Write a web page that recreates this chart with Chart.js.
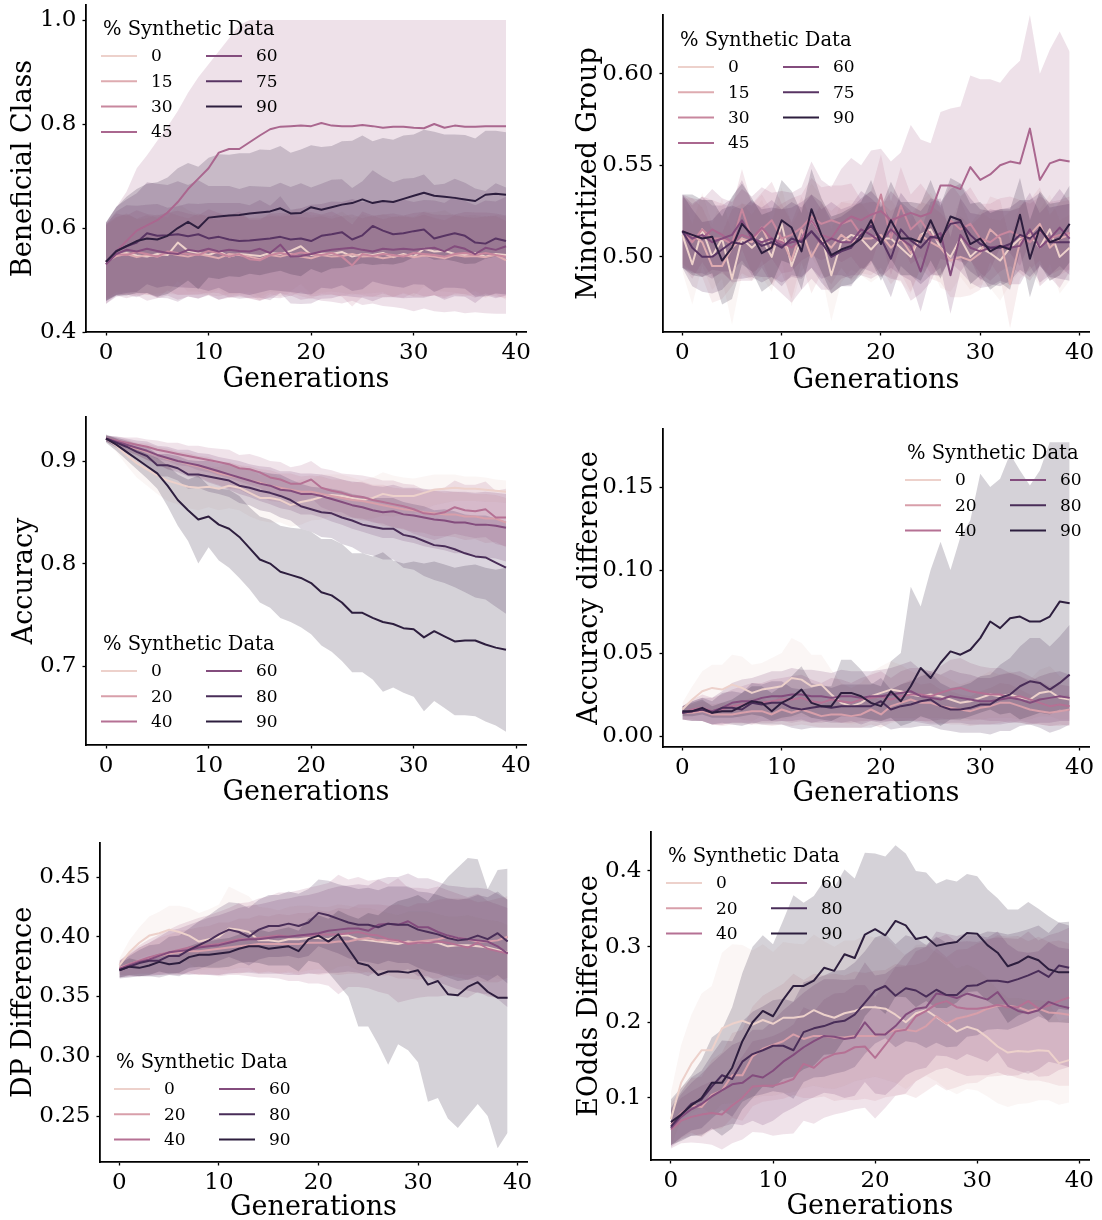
<!DOCTYPE html>
<html>
<head>
<meta charset="utf-8">
<script src="https://cdn.jsdelivr.net/npm/chart.js@4/dist/chart.umd.min.js"></script>
<style>
  body { margin: 0; background: #fff; width: 1102px; height: 1220px; position: relative; overflow: hidden; }
  canvas { position: absolute; }
</style>
</head>
<body>
<script>
// generations on the x axis and the two hue sets
const generations = [0,1,2,3,4,5,6,7,8,9,10,11,12,13,14,15,16,17,18,19,20,21,22,23,24,25,26,27,28,29,30,31,32,33,34,35,36,37,38,39];
const xTicks = [0, 10, 20, 30, 40];
const pctSeven = [0, 15, 30, 45, 60, 75, 90];
const pctSix = [0, 20, 40, 60, 80, 90];

// --- Beneficial Class ---
const bcYTicks = ["0.4", "0.6", "0.8", "1.0"];
const bcMean0 = [0.535,0.548,0.552,0.547,0.545,0.55,0.548,0.572,0.556,0.552,0.548,0.555,0.545,0.55,0.548,0.546,0.552,0.55,0.556,0.565,0.548,0.551,0.55,0.554,0.545,0.55,0.548,0.552,0.544,0.55,0.545,0.56,0.555,0.556,0.55,0.548,0.552,0.545,0.55,0.548];
const bcMean15 = [0.535,0.546,0.55,0.544,0.548,0.545,0.552,0.548,0.545,0.55,0.546,0.542,0.55,0.548,0.545,0.54,0.548,0.545,0.55,0.545,0.542,0.548,0.545,0.546,0.55,0.545,0.546,0.542,0.545,0.548,0.544,0.547,0.545,0.542,0.548,0.545,0.546,0.544,0.548,0.538];
const bcMean30 = [0.535,0.55,0.548,0.554,0.55,0.545,0.555,0.552,0.55,0.548,0.556,0.552,0.545,0.55,0.54,0.538,0.548,0.552,0.548,0.553,0.55,0.548,0.552,0.545,0.528,0.55,0.546,0.55,0.548,0.545,0.552,0.55,0.548,0.545,0.55,0.552,0.548,0.552,0.548,0.545];
const bcMean45 = [0.53,0.555,0.575,0.595,0.605,0.615,0.63,0.65,0.675,0.695,0.715,0.745,0.752,0.752,0.765,0.778,0.79,0.795,0.796,0.797,0.796,0.802,0.797,0.796,0.796,0.798,0.796,0.793,0.795,0.795,0.793,0.792,0.8,0.793,0.797,0.795,0.795,0.796,0.796,0.796];
const bcMean60 = [0.53,0.55,0.558,0.555,0.56,0.556,0.552,0.55,0.558,0.555,0.56,0.555,0.558,0.556,0.555,0.56,0.552,0.568,0.545,0.546,0.55,0.555,0.558,0.56,0.562,0.558,0.555,0.56,0.558,0.56,0.558,0.56,0.562,0.555,0.565,0.56,0.55,0.562,0.558,0.565];
const bcMean75 = [0.535,0.556,0.565,0.572,0.59,0.585,0.586,0.588,0.584,0.588,0.58,0.583,0.578,0.575,0.576,0.578,0.58,0.583,0.578,0.58,0.575,0.585,0.588,0.592,0.578,0.586,0.604,0.595,0.588,0.59,0.594,0.597,0.58,0.585,0.59,0.585,0.572,0.57,0.58,0.575];
const bcMean90 = [0.535,0.555,0.565,0.575,0.58,0.578,0.585,0.6,0.612,0.6,0.62,0.622,0.624,0.625,0.628,0.63,0.632,0.638,0.628,0.629,0.64,0.635,0.64,0.645,0.648,0.655,0.648,0.652,0.65,0.656,0.662,0.668,0.662,0.66,0.658,0.655,0.652,0.664,0.666,0.664];
const bcBand0 = [0.07,0.072,0.075,0.07,0.074,0.076,0.072,0.075,0.078,0.074,0.076,0.073,0.077,0.075,0.072,0.078,0.075,0.074,0.077,0.073,0.076,0.075,0.072,0.078,0.074,0.076,0.073,0.075,0.077,0.074,0.076,0.072,0.075,0.078,0.074,0.076,0.073,0.077,0.075,0.074];
const bcBand15 = [0.072,0.075,0.078,0.074,0.077,0.075,0.079,0.076,0.074,0.078,0.075,0.073,0.077,0.076,0.074,0.079,0.075,0.077,0.074,0.076,0.078,0.075,0.073,0.077,0.076,0.074,0.078,0.075,0.077,0.074,0.076,0.079,0.075,0.073,0.077,0.076,0.074,0.078,0.075,0.076];
const bcBand30 = [0.074,0.078,0.076,0.08,0.077,0.079,0.075,0.081,0.078,0.076,0.08,0.077,0.079,0.082,0.076,0.078,0.08,0.077,0.079,0.076,0.081,0.078,0.08,0.077,0.079,0.082,0.078,0.076,0.08,0.079,0.077,0.081,0.078,0.08,0.076,0.079,0.082,0.078,0.08,0.079];
const bcLow45 = [0.455,0.47,0.465,0.47,0.46,0.465,0.47,0.462,0.468,0.465,0.47,0.462,0.466,0.47,0.465,0.46,0.466,0.465,0.47,0.462,0.465,0.46,0.458,0.455,0.46,0.452,0.455,0.45,0.448,0.445,0.44,0.445,0.44,0.438,0.44,0.436,0.438,0.436,0.435,0.435];
const bcHigh45 = [0.61,0.64,0.67,0.715,0.74,0.768,0.795,0.825,0.86,0.89,0.915,0.94,0.965,0.99,1,1,1,1,1,1,1,1,1,1,1,1,1,1,1,1,1,1,1,1,1,1,1,1,1,1];
const bcBand60 = [0.076,0.082,0.086,0.088,0.085,0.09,0.087,0.092,0.089,0.091,0.088,0.093,0.09,0.092,0.089,0.094,0.091,0.093,0.09,0.092,0.095,0.091,0.093,0.09,0.094,0.092,0.096,0.093,0.091,0.095,0.092,0.094,0.091,0.093,0.096,0.092,0.094,0.091,0.093,0.095];
const bcBand75 = [0.076,0.085,0.09,0.095,0.098,0.1,0.097,0.102,0.099,0.104,0.101,0.098,0.103,0.1,0.105,0.102,0.099,0.104,0.101,0.106,0.103,0.1,0.105,0.102,0.099,0.104,0.107,0.103,0.1,0.105,0.102,0.106,0.103,0.1,0.105,0.102,0.104,0.101,0.106,0.103];
const bcBand90 = [0.075,0.085,0.095,0.1,0.105,0.11,0.112,0.115,0.113,0.118,0.115,0.12,0.117,0.119,0.116,0.121,0.118,0.12,0.117,0.122,0.119,0.121,0.118,0.122,0.12,0.123,0.119,0.121,0.12,0.122,0.118,0.121,0.123,0.12,0.122,0.124,0.12,0.123,0.121,0.12];

// --- Minoritized Group ---
const mgYTicks = ["0.50", "0.55", "0.60"];
const mgMean0 = [0.512,0.496,0.515,0.5,0.51,0.488,0.51,0.505,0.51,0.5,0.518,0.495,0.51,0.52,0.512,0.49,0.508,0.512,0.51,0.504,0.51,0.51,0.505,0.5,0.512,0.515,0.505,0.5,0.51,0.5,0.505,0.502,0.498,0.505,0.51,0.512,0.505,0.515,0.5,0.505];
const mgMean15 = [0.514,0.512,0.508,0.495,0.495,0.505,0.51,0.508,0.516,0.505,0.51,0.498,0.515,0.5,0.51,0.505,0.512,0.508,0.51,0.51,0.512,0.505,0.51,0.502,0.512,0.508,0.505,0.498,0.5,0.498,0.502,0.515,0.51,0.485,0.508,0.512,0.518,0.505,0.51,0.512];
const mgMean30 = [0.514,0.508,0.515,0.51,0.51,0.507,0.526,0.51,0.515,0.52,0.51,0.512,0.516,0.522,0.518,0.52,0.518,0.52,0.512,0.516,0.534,0.51,0.528,0.515,0.52,0.512,0.508,0.52,0.515,0.518,0.51,0.508,0.512,0.514,0.511,0.508,0.514,0.51,0.512,0.513];
const mgMean45 = [0.514,0.512,0.51,0.515,0.512,0.508,0.512,0.51,0.516,0.51,0.508,0.505,0.51,0.52,0.512,0.51,0.518,0.522,0.52,0.523,0.525,0.52,0.522,0.524,0.522,0.524,0.539,0.539,0.537,0.549,0.542,0.545,0.55,0.552,0.551,0.57,0.542,0.551,0.553,0.552];
const mgMean60 = [0.514,0.51,0.512,0.508,0.51,0.512,0.52,0.51,0.508,0.51,0.506,0.508,0.509,0.514,0.507,0.51,0.508,0.508,0.515,0.512,0.508,0.515,0.51,0.506,0.492,0.51,0.513,0.49,0.512,0.505,0.503,0.505,0.506,0.505,0.506,0.515,0.505,0.51,0.516,0.51];
const mgMean75 = [0.514,0.505,0.5,0.5,0.504,0.508,0.507,0.51,0.506,0.508,0.505,0.51,0.508,0.514,0.508,0.5,0.503,0.505,0.512,0.517,0.51,0.499,0.515,0.509,0.505,0.511,0.51,0.518,0.519,0.512,0.507,0.505,0.505,0.507,0.512,0.51,0.515,0.508,0.508,0.508];
const mgMean90 = [0.514,0.512,0.51,0.511,0.498,0.505,0.518,0.512,0.502,0.505,0.52,0.516,0.503,0.526,0.512,0.501,0.504,0.506,0.51,0.52,0.507,0.52,0.51,0.51,0.508,0.52,0.508,0.522,0.52,0.507,0.51,0.503,0.506,0.504,0.523,0.499,0.516,0.508,0.51,0.518];
const mgBand0 = [0.02,0.022,0.02,0.018,0.022,0.025,0.02,0.018,0.021,0.019,0.02,0.022,0.018,0.02,0.021,0.025,0.022,0.019,0.02,0.018,0.02,0.021,0.019,0.02,0.018,0.02,0.022,0.019,0.021,0.018,0.02,0.019,0.022,0.02,0.018,0.02,0.021,0.019,0.02,0.018];
const mgBand15 = [0.018,0.02,0.019,0.02,0.018,0.021,0.019,0.02,0.018,0.02,0.019,0.021,0.018,0.02,0.019,0.02,0.018,0.021,0.019,0.02,0.018,0.02,0.019,0.021,0.018,0.02,0.019,0.02,0.022,0.019,0.02,0.018,0.021,0.024,0.02,0.019,0.02,0.018,0.02,0.019];
const mgBand30 = [0.019,0.02,0.018,0.021,0.019,0.02,0.022,0.019,0.02,0.021,0.019,0.02,0.018,0.021,0.02,0.019,0.021,0.02,0.019,0.02,0.022,0.02,0.021,0.019,0.02,0.021,0.019,0.02,0.018,0.02,0.019,0.021,0.02,0.019,0.02,0.021,0.019,0.02,0.019,0.02];
const mgBand45 = [0.02,0.02,0.021,0.022,0.02,0.022,0.025,0.023,0.022,0.025,0.028,0.03,0.028,0.032,0.03,0.028,0.03,0.032,0.03,0.035,0.034,0.032,0.035,0.048,0.042,0.038,0.04,0.042,0.045,0.05,0.055,0.052,0.045,0.05,0.056,0.062,0.058,0.062,0.07,0.06];
const mgBand60 = [0.02,0.019,0.021,0.02,0.018,0.02,0.022,0.02,0.019,0.021,0.02,0.019,0.021,0.02,0.019,0.02,0.018,0.02,0.021,0.02,0.019,0.021,0.02,0.019,0.022,0.02,0.019,0.021,0.02,0.019,0.02,0.021,0.019,0.02,0.021,0.02,0.019,0.02,0.021,0.02];
const mgBand75 = [0.02,0.021,0.019,0.02,0.022,0.02,0.019,0.021,0.02,0.019,0.021,0.02,0.019,0.02,0.022,0.02,0.019,0.021,0.02,0.019,0.02,0.021,0.02,0.019,0.02,0.021,0.02,0.019,0.021,0.02,0.019,0.02,0.021,0.02,0.019,0.021,0.02,0.019,0.02,0.021];
const mgBand90 = [0.02,0.022,0.021,0.02,0.024,0.028,0.022,0.02,0.021,0.02,0.022,0.02,0.021,0.022,0.02,0.021,0.02,0.021,0.02,0.022,0.02,0.021,0.02,0.02,0.021,0.022,0.02,0.021,0.02,0.022,0.02,0.021,0.02,0.022,0.02,0.021,0.02,0.021,0.02,0.021];

// --- Accuracy ---
const accYTicks = ["0.7", "0.8", "0.9"];
const accMean0 = [0.922,0.915,0.906,0.898,0.892,0.886,0.881,0.878,0.875,0.874,0.875,0.873,0.876,0.874,0.869,0.864,0.864,0.862,0.857,0.86,0.862,0.865,0.867,0.866,0.864,0.862,0.864,0.868,0.866,0.866,0.866,0.869,0.872,0.873,0.874,0.873,0.873,0.872,0.871,0.87];
const accMean20 = [0.922,0.918,0.915,0.912,0.909,0.906,0.902,0.9,0.897,0.895,0.892,0.888,0.886,0.884,0.881,0.879,0.876,0.874,0.872,0.87,0.87,0.868,0.866,0.864,0.862,0.861,0.859,0.857,0.855,0.853,0.852,0.85,0.849,0.848,0.848,0.846,0.846,0.844,0.844,0.84];
const accMean40 = [0.922,0.92,0.918,0.916,0.914,0.911,0.909,0.907,0.905,0.903,0.901,0.899,0.897,0.893,0.892,0.889,0.884,0.882,0.878,0.878,0.882,0.874,0.871,0.869,0.866,0.865,0.862,0.86,0.858,0.856,0.853,0.849,0.848,0.85,0.855,0.852,0.851,0.853,0.845,0.845];
const accMean60 = [0.922,0.919,0.916,0.913,0.91,0.906,0.903,0.9,0.898,0.896,0.893,0.89,0.887,0.884,0.881,0.878,0.876,0.872,0.871,0.868,0.868,0.866,0.863,0.86,0.857,0.855,0.852,0.85,0.851,0.848,0.847,0.845,0.843,0.842,0.84,0.84,0.838,0.838,0.837,0.835];
const accMean80 = [0.922,0.918,0.914,0.909,0.905,0.896,0.896,0.893,0.887,0.887,0.885,0.883,0.881,0.876,0.874,0.871,0.869,0.866,0.862,0.856,0.853,0.85,0.849,0.845,0.842,0.838,0.836,0.834,0.834,0.828,0.826,0.822,0.818,0.817,0.814,0.81,0.807,0.806,0.801,0.796];
const accMean90 = [0.922,0.916,0.909,0.902,0.895,0.888,0.876,0.862,0.852,0.843,0.846,0.838,0.834,0.826,0.815,0.804,0.8,0.792,0.789,0.786,0.781,0.772,0.769,0.762,0.752,0.752,0.747,0.743,0.741,0.737,0.736,0.728,0.734,0.729,0.724,0.725,0.725,0.721,0.718,0.716];
const accBand0 = [0.003,0.006,0.01,0.014,0.016,0.018,0.02,0.02,0.021,0.022,0.02,0.021,0.022,0.022,0.023,0.022,0.024,0.022,0.021,0.022,0.02,0.022,0.02,0.021,0.02,0.019,0.02,0.021,0.02,0.018,0.017,0.016,0.015,0.014,0.013,0.012,0.012,0.012,0.011,0.011];
const accBand20 = [0.003,0.004,0.006,0.006,0.008,0.008,0.01,0.009,0.011,0.01,0.012,0.011,0.013,0.012,0.014,0.013,0.015,0.014,0.016,0.015,0.016,0.017,0.016,0.018,0.017,0.019,0.018,0.02,0.019,0.02,0.021,0.02,0.022,0.021,0.022,0.023,0.022,0.024,0.023,0.024];
const accBand40 = [0.003,0.004,0.005,0.007,0.007,0.009,0.009,0.011,0.01,0.012,0.012,0.013,0.014,0.013,0.015,0.015,0.016,0.017,0.016,0.018,0.018,0.019,0.02,0.019,0.021,0.021,0.022,0.021,0.023,0.022,0.024,0.023,0.025,0.024,0.026,0.025,0.026,0.027,0.026,0.028];
const accBand60 = [0.003,0.005,0.006,0.007,0.009,0.009,0.011,0.011,0.013,0.012,0.014,0.014,0.015,0.016,0.016,0.017,0.018,0.018,0.019,0.02,0.02,0.021,0.022,0.022,0.023,0.024,0.024,0.025,0.026,0.026,0.027,0.028,0.028,0.029,0.03,0.03,0.031,0.032,0.032,0.033];
const accBand80 = [0.003,0.005,0.006,0.008,0.009,0.011,0.011,0.012,0.014,0.013,0.015,0.015,0.016,0.017,0.017,0.019,0.019,0.021,0.02,0.022,0.022,0.024,0.024,0.026,0.026,0.028,0.028,0.03,0.03,0.032,0.032,0.034,0.034,0.036,0.037,0.038,0.04,0.041,0.043,0.045];
const accBand90 = [0.004,0.006,0.008,0.01,0.012,0.015,0.02,0.025,0.03,0.043,0.03,0.035,0.038,0.04,0.04,0.042,0.043,0.045,0.046,0.048,0.05,0.052,0.055,0.057,0.058,0.058,0.06,0.068,0.062,0.063,0.066,0.072,0.068,0.07,0.072,0.073,0.074,0.075,0.076,0.08];

// --- Accuracy difference ---
const adYTicks = ["0.00", "0.05", "0.10", "0.15"];
const adMean0 = [0.016,0.022,0.027,0.029,0.028,0.031,0.029,0.026,0.028,0.029,0.03,0.035,0.034,0.03,0.031,0.025,0.02,0.018,0.02,0.024,0.026,0.028,0.027,0.025,0.024,0.025,0.024,0.022,0.02,0.021,0.023,0.025,0.024,0.025,0.023,0.022,0.026,0.027,0.023,0.022];
const adMean20 = [0.014,0.014,0.015,0.013,0.013,0.013,0.014,0.015,0.015,0.013,0.016,0.014,0.016,0.014,0.012,0.013,0.013,0.012,0.013,0.016,0.013,0.018,0.02,0.022,0.02,0.02,0.018,0.017,0.016,0.015,0.017,0.018,0.02,0.02,0.018,0.016,0.015,0.014,0.015,0.016];
const adMean40 = [0.014,0.016,0.017,0.015,0.016,0.018,0.019,0.02,0.02,0.021,0.022,0.022,0.023,0.021,0.02,0.022,0.021,0.02,0.022,0.023,0.024,0.022,0.024,0.025,0.025,0.024,0.026,0.028,0.029,0.027,0.026,0.025,0.025,0.023,0.024,0.022,0.02,0.018,0.019,0.018];
const adMean60 = [0.014,0.015,0.016,0.015,0.017,0.02,0.021,0.021,0.023,0.024,0.024,0.025,0.025,0.024,0.024,0.023,0.024,0.024,0.023,0.024,0.024,0.025,0.026,0.027,0.024,0.023,0.022,0.024,0.023,0.022,0.021,0.021,0.022,0.023,0.022,0.02,0.022,0.023,0.024,0.023];
const adMean80 = [0.014,0.015,0.016,0.014,0.017,0.017,0.016,0.02,0.019,0.02,0.02,0.017,0.016,0.017,0.018,0.017,0.018,0.018,0.018,0.018,0.021,0.016,0.018,0.019,0.021,0.022,0.018,0.016,0.016,0.017,0.019,0.019,0.023,0.025,0.03,0.033,0.032,0.028,0.032,0.037];
const adMean90 = [0.015,0.015,0.017,0.014,0.015,0.015,0.018,0.021,0.02,0.015,0.02,0.023,0.028,0.02,0.018,0.018,0.026,0.026,0.024,0.02,0.018,0.027,0.021,0.03,0.041,0.035,0.044,0.051,0.049,0.052,0.059,0.069,0.065,0.071,0.072,0.069,0.069,0.072,0.081,0.08];
const adBand0 = [0.004,0.008,0.012,0.014,0.015,0.018,0.019,0.017,0.016,0.018,0.02,0.024,0.022,0.019,0.018,0.015,0.012,0.011,0.012,0.014,0.016,0.017,0.016,0.014,0.013,0.014,0.013,0.012,0.011,0.012,0.013,0.014,0.013,0.014,0.013,0.012,0.014,0.015,0.013,0.012];
const adBand20 = [0.004,0.005,0.006,0.006,0.007,0.006,0.007,0.008,0.008,0.007,0.009,0.008,0.009,0.008,0.007,0.008,0.008,0.007,0.008,0.009,0.008,0.01,0.011,0.012,0.011,0.012,0.01,0.01,0.009,0.009,0.01,0.011,0.012,0.011,0.01,0.009,0.008,0.008,0.009,0.009];
const adBand40 = [0.004,0.006,0.008,0.008,0.009,0.01,0.011,0.012,0.012,0.013,0.013,0.014,0.014,0.013,0.012,0.013,0.013,0.012,0.013,0.014,0.015,0.013,0.015,0.016,0.016,0.015,0.016,0.018,0.018,0.017,0.016,0.016,0.016,0.015,0.015,0.014,0.013,0.012,0.012,0.012];
const adBand60 = [0.004,0.006,0.007,0.008,0.01,0.012,0.013,0.014,0.014,0.015,0.015,0.016,0.015,0.016,0.015,0.015,0.016,0.015,0.016,0.015,0.016,0.016,0.017,0.018,0.016,0.016,0.015,0.016,0.015,0.015,0.014,0.014,0.015,0.015,0.014,0.013,0.014,0.015,0.015,0.014];
const adBand80 = [0.004,0.006,0.007,0.007,0.009,0.01,0.01,0.012,0.012,0.013,0.013,0.012,0.012,0.012,0.013,0.012,0.013,0.013,0.013,0.013,0.014,0.012,0.013,0.014,0.015,0.016,0.014,0.013,0.014,0.015,0.017,0.018,0.02,0.022,0.024,0.026,0.027,0.026,0.028,0.03];
const adLow90 = [0.012,0.012,0.013,0.011,0.011,0.011,0.012,0.013,0.012,0.009,0.011,0.012,0.014,0.011,0.01,0.009,0.012,0.012,0.011,0.01,0.009,0.011,0.006,0.008,0.012,0.01,0.006,0.01,0.01,0.012,0.014,0.016,0.013,0.014,0.01,0.012,0.014,0.013,0.016,0.015];
const adHigh90 = [0.018,0.02,0.022,0.018,0.02,0.022,0.026,0.03,0.03,0.026,0.03,0.036,0.042,0.032,0.03,0.03,0.046,0.046,0.04,0.032,0.03,0.045,0.05,0.09,0.078,0.1,0.117,0.1,0.12,0.13,0.158,0.15,0.155,0.17,0.16,0.151,0.16,0.177,0.177,0.177];

// --- DP Difference ---
const dpYTicks = ["0.25", "0.30", "0.35", "0.40", "0.45"];
const dpMean0 = [0.376,0.387,0.395,0.401,0.403,0.406,0.404,0.401,0.396,0.398,0.4,0.407,0.406,0.404,0.397,0.397,0.396,0.398,0.398,0.399,0.399,0.398,0.401,0.401,0.398,0.397,0.396,0.395,0.394,0.396,0.395,0.396,0.395,0.392,0.393,0.393,0.392,0.391,0.389,0.387];
const dpMean20 = [0.374,0.377,0.38,0.382,0.384,0.386,0.387,0.388,0.388,0.389,0.39,0.391,0.392,0.393,0.394,0.394,0.394,0.394,0.394,0.395,0.395,0.395,0.396,0.396,0.398,0.399,0.397,0.397,0.396,0.395,0.396,0.397,0.398,0.4,0.399,0.398,0.396,0.396,0.397,0.4];
const dpMean40 = [0.373,0.377,0.38,0.383,0.385,0.387,0.389,0.391,0.392,0.393,0.394,0.396,0.398,0.398,0.399,0.4,0.401,0.4,0.401,0.401,0.402,0.402,0.402,0.403,0.404,0.402,0.401,0.398,0.397,0.394,0.395,0.395,0.396,0.395,0.393,0.391,0.395,0.39,0.388,0.386];
const dpMean60 = [0.373,0.376,0.379,0.381,0.384,0.387,0.388,0.389,0.391,0.392,0.393,0.395,0.397,0.398,0.398,0.399,0.4,0.4,0.401,0.402,0.403,0.405,0.406,0.407,0.407,0.405,0.41,0.411,0.41,0.413,0.408,0.408,0.404,0.401,0.399,0.398,0.397,0.396,0.392,0.386];
const dpMean80 = [0.372,0.375,0.378,0.38,0.38,0.384,0.384,0.389,0.393,0.397,0.402,0.406,0.404,0.4,0.406,0.409,0.409,0.411,0.409,0.412,0.42,0.418,0.415,0.412,0.41,0.41,0.408,0.411,0.41,0.41,0.406,0.404,0.402,0.399,0.397,0.398,0.401,0.398,0.403,0.396];
const dpMean90 = [0.372,0.375,0.374,0.376,0.379,0.377,0.378,0.383,0.385,0.385,0.386,0.387,0.39,0.392,0.392,0.39,0.391,0.392,0.388,0.398,0.401,0.396,0.402,0.39,0.378,0.376,0.368,0.371,0.371,0.37,0.372,0.36,0.363,0.352,0.351,0.358,0.362,0.354,0.349,0.349];
const dpBand0 = [0.006,0.01,0.013,0.016,0.018,0.02,0.022,0.023,0.024,0.025,0.027,0.035,0.032,0.03,0.028,0.027,0.026,0.027,0.028,0.027,0.026,0.027,0.026,0.025,0.026,0.027,0.026,0.025,0.024,0.025,0.026,0.025,0.024,0.025,0.024,0.025,0.024,0.023,0.024,0.023];
const dpBand20 = [0.006,0.009,0.011,0.013,0.015,0.016,0.018,0.018,0.02,0.02,0.022,0.021,0.023,0.022,0.024,0.023,0.025,0.024,0.026,0.025,0.027,0.026,0.028,0.027,0.029,0.028,0.03,0.029,0.031,0.03,0.032,0.031,0.033,0.032,0.033,0.034,0.033,0.034,0.035,0.034];
const dpBand40 = [0.007,0.01,0.013,0.015,0.017,0.019,0.021,0.022,0.024,0.025,0.027,0.028,0.03,0.031,0.033,0.034,0.036,0.037,0.038,0.04,0.041,0.043,0.05,0.045,0.046,0.045,0.047,0.046,0.052,0.047,0.046,0.045,0.046,0.044,0.043,0.042,0.041,0.04,0.039,0.038];
const dpBand60 = [0.007,0.009,0.012,0.014,0.016,0.018,0.019,0.021,0.022,0.024,0.025,0.026,0.027,0.028,0.029,0.03,0.031,0.032,0.033,0.033,0.034,0.035,0.036,0.036,0.037,0.038,0.038,0.039,0.04,0.04,0.041,0.041,0.042,0.042,0.043,0.043,0.044,0.044,0.044,0.045];
const dpBand80 = [0.007,0.009,0.011,0.013,0.014,0.016,0.017,0.018,0.02,0.021,0.022,0.023,0.024,0.024,0.025,0.026,0.026,0.027,0.027,0.028,0.028,0.029,0.029,0.03,0.03,0.031,0.031,0.031,0.032,0.032,0.032,0.033,0.033,0.033,0.034,0.034,0.034,0.035,0.035,0.035];
const dpLow90 = [0.366,0.368,0.367,0.368,0.371,0.369,0.37,0.374,0.375,0.374,0.374,0.375,0.378,0.379,0.378,0.376,0.376,0.376,0.371,0.38,0.378,0.37,0.36,0.35,0.325,0.325,0.31,0.293,0.31,0.305,0.295,0.262,0.265,0.248,0.24,0.25,0.26,0.25,0.223,0.236];
const dpHigh90 = [0.378,0.382,0.38,0.383,0.386,0.385,0.386,0.392,0.395,0.396,0.398,0.399,0.402,0.405,0.406,0.404,0.406,0.408,0.405,0.415,0.418,0.415,0.422,0.418,0.415,0.42,0.418,0.425,0.43,0.432,0.435,0.43,0.44,0.45,0.458,0.466,0.465,0.44,0.456,0.457];

// --- EOdds Difference ---
const eoYTicks = ["0.1", "0.2", "0.3", "0.4"];
const eoMean0 = [0.072,0.12,0.145,0.163,0.163,0.192,0.198,0.202,0.197,0.203,0.198,0.206,0.206,0.208,0.216,0.21,0.206,0.212,0.215,0.22,0.22,0.218,0.21,0.2,0.212,0.216,0.207,0.198,0.188,0.194,0.19,0.18,0.168,0.16,0.162,0.161,0.163,0.162,0.146,0.15];
const eoMean20 = [0.065,0.08,0.09,0.088,0.104,0.11,0.13,0.13,0.155,0.165,0.17,0.175,0.184,0.178,0.182,0.182,0.18,0.18,0.182,0.182,0.182,0.185,0.19,0.19,0.188,0.195,0.208,0.198,0.205,0.208,0.212,0.218,0.222,0.222,0.22,0.215,0.218,0.213,0.212,0.21];
const eoMean40 = [0.058,0.07,0.075,0.078,0.08,0.078,0.09,0.1,0.115,0.116,0.116,0.12,0.125,0.145,0.14,0.152,0.158,0.16,0.167,0.168,0.153,0.17,0.188,0.19,0.208,0.215,0.224,0.228,0.22,0.218,0.218,0.22,0.223,0.22,0.22,0.228,0.218,0.222,0.228,0.233];
const eoMean60 = [0.06,0.075,0.085,0.092,0.102,0.11,0.118,0.12,0.13,0.127,0.136,0.148,0.157,0.167,0.175,0.182,0.181,0.178,0.18,0.2,0.184,0.184,0.195,0.21,0.218,0.22,0.238,0.236,0.232,0.238,0.234,0.23,0.24,0.222,0.215,0.212,0.216,0.227,0.222,0.219];
const eoMean80 = [0.062,0.078,0.092,0.098,0.115,0.13,0.125,0.148,0.158,0.163,0.169,0.169,0.163,0.187,0.192,0.195,0.2,0.202,0.21,0.226,0.242,0.248,0.235,0.245,0.242,0.234,0.243,0.236,0.236,0.248,0.249,0.255,0.255,0.253,0.257,0.262,0.268,0.26,0.275,0.272];
const eoMean90 = [0.068,0.078,0.09,0.1,0.12,0.12,0.14,0.175,0.2,0.215,0.208,0.23,0.248,0.248,0.255,0.272,0.268,0.29,0.285,0.316,0.323,0.315,0.334,0.328,0.31,0.313,0.301,0.304,0.306,0.318,0.317,0.302,0.292,0.274,0.279,0.287,0.282,0.27,0.266,0.266];
const eoBand0 = [0.035,0.05,0.065,0.075,0.085,0.1,0.105,0.1,0.098,0.1,0.095,0.1,0.098,0.095,0.1,0.097,0.094,0.096,0.093,0.095,0.092,0.094,0.09,0.088,0.09,0.087,0.085,0.086,0.083,0.082,0.08,0.078,0.075,0.072,0.07,0.068,0.066,0.065,0.055,0.056];
const eoBand20 = [0.028,0.033,0.036,0.04,0.046,0.05,0.056,0.06,0.066,0.07,0.073,0.076,0.08,0.078,0.082,0.08,0.084,0.082,0.085,0.083,0.086,0.084,0.087,0.085,0.088,0.086,0.09,0.088,0.091,0.089,0.092,0.09,0.093,0.091,0.094,0.092,0.095,0.093,0.096,0.094];
const eoBand40 = [0.025,0.03,0.034,0.038,0.042,0.046,0.05,0.055,0.06,0.062,0.066,0.068,0.072,0.075,0.074,0.078,0.08,0.079,0.082,0.081,0.08,0.083,0.085,0.084,0.086,0.085,0.087,0.088,0.086,0.089,0.088,0.09,0.089,0.091,0.09,0.092,0.09,0.093,0.091,0.092];
const eoBand60 = [0.025,0.03,0.035,0.04,0.044,0.048,0.052,0.056,0.06,0.063,0.066,0.068,0.07,0.072,0.074,0.075,0.076,0.078,0.077,0.079,0.078,0.08,0.079,0.08,0.081,0.08,0.082,0.081,0.082,0.08,0.081,0.082,0.08,0.081,0.079,0.08,0.078,0.079,0.077,0.078];
const eoBand80 = [0.025,0.03,0.035,0.038,0.042,0.046,0.05,0.053,0.056,0.058,0.06,0.062,0.064,0.066,0.065,0.067,0.068,0.067,0.069,0.068,0.07,0.069,0.068,0.07,0.069,0.068,0.07,0.069,0.068,0.067,0.066,0.065,0.064,0.063,0.062,0.061,0.06,0.058,0.057,0.056];
const eoBand90 = [0.03,0.035,0.04,0.05,0.06,0.07,0.08,0.09,0.1,0.1,0.095,0.105,0.12,0.11,0.112,0.115,0.11,0.112,0.105,0.108,0.1,0.104,0.1,0.095,0.09,0.085,0.082,0.085,0.08,0.078,0.076,0.074,0.072,0.075,0.07,0.072,0.068,0.07,0.066,0.067];

const SERIF = "'DejaVu Serif', serif";
const INK = "#000";

// seaborn default numeric hue map (cubehelix, light -> dark)
function cubehelix(t) {
    const x = 0.85 - 0.7 * t;
    const a = 0.8 * x * (1 - x) / 2;
    const phi = 2 * Math.PI * (0.4 * x);
    const c = Math.cos(phi), s = Math.sin(phi);
    const r = x + a * (-0.14861 * c + 1.78277 * s);
    const g = x + a * (-0.29227 * c - 0.90649 * s);
    const b = x + a * (1.97294 * c);
    return [r, g, b].map(v => Math.round(Math.min(1, Math.max(0, v)) * 255));
}
const rgba = (c, a) => `rgba(${c[0]},${c[1]},${c[2]},${a})`;

const panels = [
    { box: [0, 0, 550, 400], area: [86, 5, 526, 332], y: [0.4, 1.029], yTicks: bcYTicks, yTitle: "Beneficial Class",
      yTitleX: 22, xTitleY: 377, legendAt: [101, 30], pct: pctSeven,
      series: [{ mean: bcMean0, hw: bcBand0 }, { mean: bcMean15, hw: bcBand15 }, { mean: bcMean30, hw: bcBand30 },
               { mean: bcMean45, lo: bcLow45, hi: bcHigh45 }, { mean: bcMean60, hw: bcBand60 },
               { mean: bcMean75, hw: bcBand75 }, { mean: bcMean90, hw: bcBand90 }] },
    { box: [560, 0, 542, 400], area: [663, 15, 1089, 332], y: [0.459, 0.632], yTicks: mgYTicks, yTitle: "Minoritized Group",
      yTitleX: 587, xTitleY: 378, legendAt: [678, 41], pct: pctSeven,
      series: [{ mean: mgMean0, hw: mgBand0 }, { mean: mgMean15, hw: mgBand15 }, { mean: mgMean30, hw: mgBand30 },
               { mean: mgMean45, hw: mgBand45 }, { mean: mgMean60, hw: mgBand60 },
               { mean: mgMean75, hw: mgBand75 }, { mean: mgMean90, hw: mgBand90 }] },
    { box: [0, 400, 550, 415], area: [86, 417, 526, 745], y: [0.623, 0.943], yTicks: accYTicks, yTitle: "Accuracy",
      yTitleX: 23, xTitleY: 790, legendAt: [101, 645], pct: pctSix,
      series: [{ mean: accMean0, hw: accBand0 }, { mean: accMean20, hw: accBand20 }, { mean: accMean40, hw: accBand40 },
               { mean: accMean60, hw: accBand60 }, { mean: accMean80, hw: accBand80 }, { mean: accMean90, hw: accBand90 }] },
    { box: [560, 400, 542, 415], area: [663, 429, 1089, 747], y: [-0.0066, 0.185], yTicks: adYTicks, yTitle: "Accuracy difference",
      yTitleX: 588, xTitleY: 791, legendAt: [905, 454], pct: pctSix,
      series: [{ mean: adMean0, hw: adBand0 }, { mean: adMean20, hw: adBand20 }, { mean: adMean40, hw: adBand40 },
               { mean: adMean60, hw: adBand60 }, { mean: adMean80, hw: adBand80 },
               { mean: adMean90, lo: adLow90, hi: adHigh90 }] },
    { box: [0, 815, 550, 405], area: [100, 843, 527, 1162], y: [0.2115, 0.4785], yTicks: dpYTicks, yTitle: "DP Difference",
      yTitleX: 22, xTitleY: 1205, legendAt: [114, 1063], pct: pctSix,
      series: [{ mean: dpMean0, hw: dpBand0 }, { mean: dpMean20, hw: dpBand20 }, { mean: dpMean40, hw: dpBand40 },
               { mean: dpMean60, hw: dpBand60 }, { mean: dpMean80, hw: dpBand80 },
               { mean: dpMean90, lo: dpLow90, hi: dpHigh90 }] },
    { box: [560, 815, 542, 405], area: [651, 832, 1089, 1160], y: [0.018, 0.4515], yTicks: eoYTicks, yTitle: "EOdds Difference",
      yTitleX: 588, xTitleY: 1204, legendAt: [666, 857], pct: pctSix,
      series: [{ mean: eoMean0, hw: eoBand0 }, { mean: eoMean20, hw: eoBand20 }, { mean: eoMean40, hw: eoBand40 },
               { mean: eoMean60, hw: eoBand60 }, { mean: eoMean80, hw: eoBand80 }, { mean: eoMean90, hw: eoBand90 }] }
];

const pts = arr => arr.map((v, k) => ({ x: generations[k], y: v }));

function buildDatasets(p) {
    const n = p.series.length, ds = [];
    p.series.forEach((s, i) => {
        const col = cubehelix(p.pct[i] / 90);
        const lo = s.lo || s.mean.map((m, k) => m - s.hw[k]);
        const hi = s.hi || s.mean.map((m, k) => m + s.hw[k]);
        const band = { borderColor: "rgba(0,0,0,0)", borderWidth: 0, pointRadius: 0, tension: 0, order: 100 + n - i };
        ds.push(Object.assign({ data: pts(hi), fill: "+1", backgroundColor: rgba(col, 0.2) }, band));
        ds.push(Object.assign({ data: pts(lo), fill: false }, band));
        ds.push({ data: pts(s.mean), fill: false, borderColor: rgba(col, 1), borderWidth: 2,
                  pointRadius: 0, tension: 0, borderJoinStyle: "round", order: n - i });
    });
    return ds;
}

function legendPlugin(p) {
    return {
        id: "pctLegend",
        afterDraw(chart) {
            const ctx = chart.ctx;
            const x0 = p.legendAt[0] - p.box[0], y0 = p.legendAt[1] - p.box[1];
            const rows = Math.ceil(p.pct.length / 2);
            ctx.save();
            ctx.fillStyle = INK;
            ctx.textBaseline = "middle";
            ctx.textAlign = "left";
            ctx.font = `19.5px ${SERIF}`;
            ctx.fillText("% Synthetic Data", x0 + 2, y0);
            ctx.font = `17px ${SERIF}`;
            p.pct.forEach((v, i) => {
                const hx = x0 + Math.floor(i / rows) * 105;
                const hy = y0 + 27 + (i % rows) * 25.3;
                ctx.strokeStyle = rgba(cubehelix(v / 90), 1);
                ctx.lineWidth = 2;
                ctx.beginPath();
                ctx.moveTo(hx, hy - 1);
                ctx.lineTo(hx + 36, hy - 1);
                ctx.stroke();
                ctx.fillText(String(v), hx + 50, hy);
            });
            ctx.restore();
        }
    };
}

function drawPanel(p) {
    const [bl, bt, bw, bh] = p.box;
    const [al, at, ar, ab] = p.area;
    const canvas = document.createElement("canvas");
    canvas.width = bw; canvas.height = bh;
    canvas.style.left = bl + "px"; canvas.style.top = bt + "px";
    document.body.appendChild(canvas);

    const yw = al - bl, xh = bt + bh - ab;
    const tickFont = { family: SERIF, size: 23 };
    const titleFont = { family: SERIF, size: 27, lineHeight: 1 };
    const grid = { drawOnChartArea: false, drawTicks: true, tickLength: 3.5, tickWidth: 1.3, tickColor: INK };
    const border = { display: true, color: INK, width: 1.8 };

    new Chart(canvas.getContext("2d"), {
        type: "line",
        data: { datasets: buildDatasets(p) },
        options: {
            responsive: false, animation: false, devicePixelRatio: 1, events: [],
            layout: { padding: { left: 0, top: at - bt, right: bl + bw - ar, bottom: 0 } },
            plugins: { legend: { display: false }, tooltip: { enabled: false }, filler: { drawTime: "beforeDatasetsDraw" } },
            scales: {
                x: {
                    type: "linear", min: -1.95, max: 40.95,
                    afterBuildTicks: s => { s.ticks = xTicks.map(v => ({ value: v })); },
                    afterFit: s => { s.height = xh; s.paddingLeft = 0; s.paddingRight = 0; },
                    ticks: { font: tickFont, color: INK, padding: 4, maxRotation: 0, autoSkip: false, callback: v => String(v) },
                    grid: grid, border: border,
                    title: { display: true, text: "Generations", font: titleFont, color: INK,
                             padding: { top: 0, bottom: bt + bh - p.xTitleY - 16.5 } }
                },
                y: {
                    type: "linear", min: p.y[0], max: p.y[1],
                    afterBuildTicks: s => { s.ticks = p.yTicks.map(t => ({ value: parseFloat(t) })); },
                    afterFit: s => { s.width = yw; s.paddingTop = 0; s.paddingBottom = 0; },
                    ticks: { font: tickFont, color: INK, padding: 6, autoSkip: false, callback: (v, i) => p.yTicks[i] },
                    grid: grid, border: border,
                    title: { display: true, text: p.yTitle, font: titleFont, color: INK,
                             padding: { top: p.yTitleX - bl - 12, bottom: 0 } }
                }
            }
        },
        plugins: [legendPlugin(p)]
    });
}

panels.forEach(drawPanel);
</script>
</body>
</html>
